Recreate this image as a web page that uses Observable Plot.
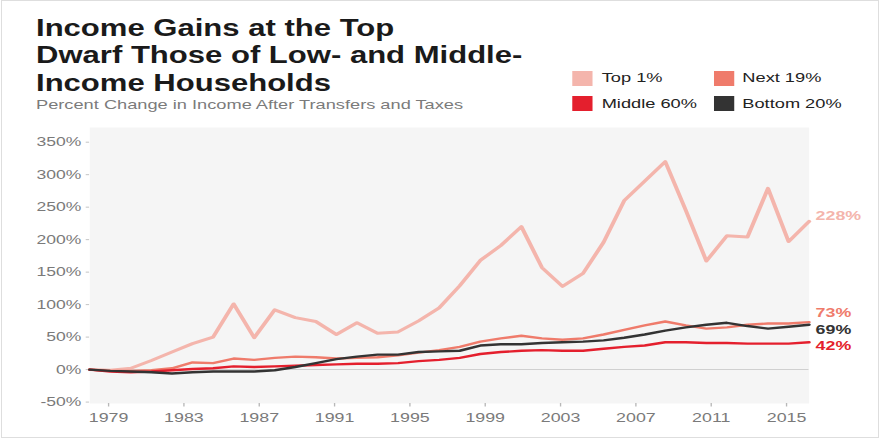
<!DOCTYPE html>
<html>
<head>
<meta charset="utf-8">
<script src="https://cdn.jsdelivr.net/npm/d3@7"></script>
<script src="https://cdn.jsdelivr.net/npm/@observablehq/plot@0.6"></script>
<style>
  html, body { margin: 0; padding: 0; background: #fff; }
  #page { position: relative; width: 880px; height: 440px; overflow: hidden; background: #fff; }
  #border { position: absolute; left: 1px; top: 0; width: 876px; height: 436px; border: 1px solid #dedede; }
  #stretch { position: absolute; left: 0; top: 0; width: 652px; height: 440px;
             transform: scaleX(1.3497); transform-origin: 0 0;
             font-family: "Liberation Sans", Arial, sans-serif; }
  .title { position: absolute; left: 26.7px; top: 14.8px; font-size: 23px; line-height: 27.5px;
           font-weight: bold; color: #1a1a1a; white-space: nowrap; }
  .subtitle { position: absolute; left: 26.7px; top: 97.3px; font-size: 13.5px; line-height: 16px;
              color: #7b7b7b; white-space: nowrap; }
  .sw { position: absolute; width: 15.6px; height: 15px; }
  .lt { position: absolute; font-size: 13.5px; line-height: 16px; color: #222; white-space: nowrap; }
  #chart { position: absolute; left: 0; top: 120px; }
</style>
</head>
<body>
<div id="page">
  <div id="border"></div>
  <div id="stretch">
    <div class="title">Income Gains at the Top<br>Dwarf Those of Low- and Middle-<br>Income Households</div>
    <div class="subtitle">Percent Change in Income After Transfers and Taxes</div>
    <div id="legend"></div>
    <div id="chart"></div>
  </div>
</div>
<script>
// ---- Data (percent change in income since 1979) ----
const years = [1979,1980,1981,1982,1983,1984,1985,1986,1987,1988,1989,1990,1991,1992,1993,1994,1995,1996,
               1997,1998,1999,2000,2001,2002,2003,2004,2005,2006,2007,2008,2009,2010,2011,2012,2013,2014];

const top1 = [0,-1,2,14,27,40,50,101,49,92,80,74,54,72,56,58,75,95,
              129,168,191,220,157,128,148,196,260,290,320,245,167,206,204,279,197,228];

const next19 = [0,-2,-2,-1,2,11,10,17,15,18,20,19,17,18,19,22,26,30,
                35,43,48,52,48,46,48,54,61,68,74,68,63,65,69,71,71,73];

const middle60 = [0,-3,-4,-3,-1,1,2,5,4,5,6,7,8,9,9,10,13,15,
                  18,24,27,29,30,29,29,32,35,37,42,42,41,41,40,40,40,42];

const bottom20 = [0,-2,-3,-4,-6,-4,-3,-3,-3,-1,4,10,16,20,23,23,27,28,
                  29,37,39,39,41,42,43,45,49,54,60,65,69,72,67,63,66,69];

const seriesNames = ["Top 1%", "Next 19%", "Middle 60%", "Bottom 20%"];
const seriesColors = ["#f4b5ac", "#ef7b6b", "#e41f2d", "#333333"];
const endLabels = ["228%", "73%", "42%", "69%"];

const yTicks = [-50, 0, 50, 100, 150, 200, 250, 300, 350];
const xTickLabels = [1979, 1983, 1987, 1991, 1995, 1999, 2003, 2007, 2011, 2015];

// ---- Legend ----
const legendLayout = [
  {name: "Top 1%",     sx: 423.8, tx: 445.8, sy: 70.7, ty: 70.1},
  {name: "Next 19%",   sx: 528.5, tx: 550.0, sy: 70.7, ty: 70.1},
  {name: "Middle 60%", sx: 423.8, tx: 445.8, sy: 96.2, ty: 95.6},
  {name: "Bottom 20%", sx: 528.5, tx: 550.0, sy: 96.2, ty: 95.6}
];
const legend = document.getElementById("legend");
legendLayout.forEach(l => {
  const c = seriesColors[seriesNames.indexOf(l.name)];
  const sw = document.createElement("div");
  sw.className = "sw";
  sw.style.left = l.sx + "px"; sw.style.top = l.sy + "px"; sw.style.background = c;
  const t = document.createElement("div");
  t.className = "lt";
  t.style.left = l.tx + "px"; t.style.top = l.ty + "px";
  t.textContent = l.name;
  legend.appendChild(sw); legend.appendChild(t);
});

// ---- Build table ----
const valuesBySeries = [top1, next19, middle60, bottom20];
const rows = [];
seriesNames.forEach((s, si) => {
  years.forEach((y, i) => rows.push({series: s, year: y, value: valuesBySeries[si][i]}));
});

// Source chart's year axis spans slightly wider than the data (labels run 1978..2016 across the frame)
const axisStart = 1978, axisEnd = 2016.2;
const xFirst = years[0], xLast = years[years.length - 1];
const tickPos = xTickLabels.map(L => xFirst + (L - axisStart) * (xLast - xFirst) / (axisEnd - axisStart));
const tickLabelAt = new Map(tickPos.map((p, i) => [p, String(xTickLabels[i])]));

const widths = [3, 2.4, 2.4, 2.4];
const labelDy = [-6, -9, 3, 5];

const lineMarks = seriesNames.map((s, si) =>
  Plot.line(rows.filter(r => r.series === s), {
    x: "year", y: "value", stroke: seriesColors[si], strokeWidth: widths[si],
    strokeLinejoin: "round", strokeLinecap: "round"
  })
);
const labelMarks = seriesNames.map((s, si) =>
  Plot.text(rows.filter(r => r.series === s && r.year === xLast), {
    x: "year", y: "value", text: () => endLabels[si], fill: seriesColors[si],
    textAnchor: "start", dx: 4.8, dy: labelDy[si], fontWeight: "bold", fontSize: 13.2
  })
);

const chart = Plot.plot({
  width: 652,
  height: 318,
  marginLeft: 66,
  marginRight: 53,
  marginTop: 7,
  marginBottom: 35,
  style: {fontFamily: "'Liberation Sans', Arial, sans-serif", background: "transparent", overflow: "visible"},
  x: {domain: [xFirst, xLast]},
  y: {domain: [-52.2, 372.6]},
  marks: [
    Plot.frame({fill: "#f5f5f5", stroke: null}),
    Plot.ruleY([0], {stroke: "#d0d0d0", strokeWidth: 1}),
    Plot.axisY(yTicks, {tickFormat: d => d + "%", tickSize: 2.5, tickPadding: 3.7,
                        fontSize: 13, fill: "#7a7a7a", stroke: "#c4c4c4", label: null}),
    Plot.axisX(tickPos, {tickFormat: d => tickLabelAt.get(d), tickSize: 3.5, tickPadding: 5.2,
                         fontSize: 13.2, fill: "#7a7a7a", stroke: "#b8b8b8", label: null}),
    ...lineMarks,
    ...labelMarks
  ]
});
document.getElementById("chart").appendChild(chart);
</script>
</body>
</html>
